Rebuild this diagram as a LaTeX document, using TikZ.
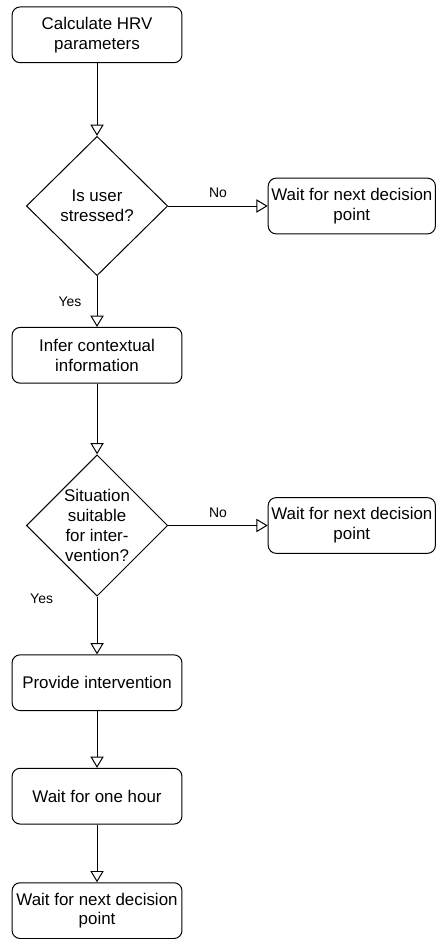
\documentclass[tikz,border=0pt]{standalone}
\usepackage{fontspec}
\setmainfont{Liberation Sans}
\usetikzlibrary{arrows.meta,positioning,shapes.geometric}

\begin{document}
\begin{tikzpicture}[
  font=\fontsize{12.75}{15}\selectfont,
  st/.style={draw, rounded corners=6pt, line width=0.75pt, minimum width=128pt, minimum height=42pt, inner xsep=2pt, align=center},
  side/.style={st, minimum width=126pt},
  dec/.style={draw, diamond, line width=0.75pt, minimum width=106.5pt, minimum height=105pt, inner sep=0pt},
  txt/.style={align=center},
  arr/.style={-{Triangle[open, length=8.5pt, width=10pt]}, line width=0.75pt},
  lab/.style={font=\fontsize{10.5}{12}\selectfont}
]
\node[st] (calc) at (0,0) {Calculate HRV\\parameters};
\node[dec, below=54.75pt of calc] (stress) {};
\node[txt] (stressq) at (stress.center) {Is user\\stressed?};
\node[side, right=75pt of stress] (wait1) {Wait for next decision\\point};
\node[st, below=38.25pt of stress] (infer) {Infer contextual\\information};
\node[dec, minimum height=106.5pt, below=53.25pt of infer] (suit) {};
\node[txt] (suitq) at (suit.center) {Situation\\suitable\\for inter-\\vention?};
\node[side, right=75pt of suit] (wait2) {Wait for next decision\\point};
\node[st, below=43.5pt of suit] (provide) {Provide intervention};
\node[st, below=42.75pt of provide] (hour) {Wait for one hour};
\node[st, below=43.5pt of hour] (wait3) {Wait for next decision\\point};

\draw[arr] (calc) -- (stress);
\draw[arr] (stress) -- node[lab, above=2.5pt] {No} (wait1);
\draw[arr] (stress) -- node[lab, left=8.2pt] {Yes} (infer);
\draw[arr] (infer) -- (suit);
\draw[arr] (suit) -- node[lab, above=2.5pt] {No} (wait2);
\draw[arr] (suit) -- node[lab, pos=0.03, left=29.5pt] {Yes} (provide);
\draw[arr] (provide) -- (hour);
\draw[arr] (hour) -- (wait3);

\useasboundingbox (-73.125pt,26.25pt) rectangle (254.625pt,-678pt);
\end{tikzpicture}
\end{document}
